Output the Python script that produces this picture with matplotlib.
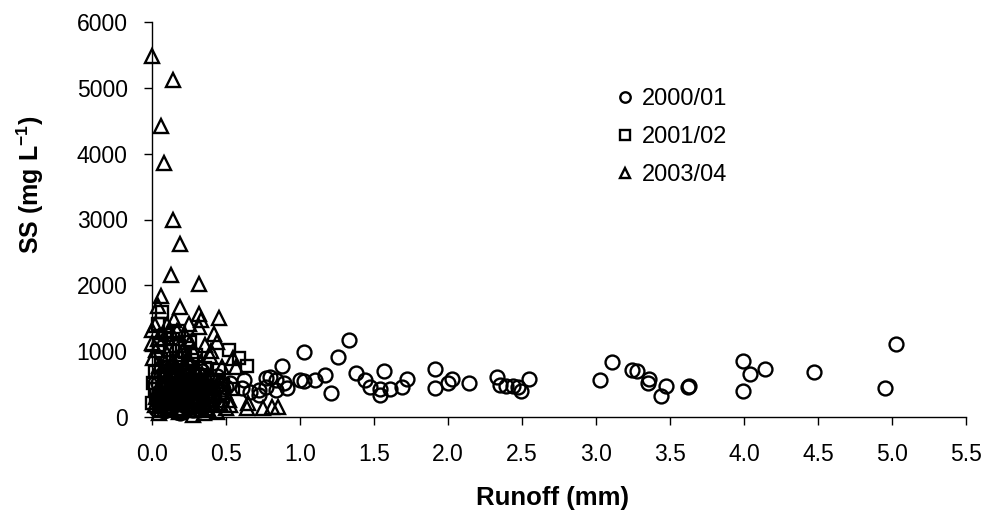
import matplotlib
matplotlib.use("Agg")
import matplotlib.pyplot as plt
from matplotlib.lines import Line2D
from matplotlib.ticker import FormatStrFormatter

plt.rcParams['font.family'] = ['Liberation Sans', 'DejaVu Sans']
plt.rcParams['mathtext.fontset'] = 'custom'
plt.rcParams['mathtext.rm'] = 'Liberation Sans'
plt.rcParams['mathtext.bf'] = 'Liberation Sans:bold'

# Runoff (mm) and suspended sediment (mg/L) per season
runoff_2000 = [0.50, 0.53, 0.61, 0.62, 0.66, 0.72, 0.72, 0.77, 0.77, 0.80, 0.84, 0.84,
               0.88, 0.89, 0.91, 1.00, 1.03, 1.03, 1.10, 1.17, 1.21, 1.26, 1.33, 1.38,
               1.44, 1.47, 1.54, 1.54, 1.57, 1.61, 1.69, 1.72, 1.91, 1.91, 2.00, 2.03,
               2.14, 2.33, 2.35, 2.39, 2.44, 2.47, 2.49, 2.55, 3.03, 3.11, 3.24, 3.28,
               3.36, 3.35, 3.47, 3.44, 3.62, 3.63, 3.99, 4.04, 3.99, 4.14, 4.47, 4.95,
               5.03,
               0.03, 0.04, 0.05, 0.06, 0.07, 0.08, 0.09, 0.10, 0.11, 0.12, 0.13, 0.14,
               0.15, 0.16, 0.17, 0.18, 0.19, 0.20, 0.21, 0.22, 0.23, 0.24, 0.25, 0.26,
               0.27, 0.28, 0.29, 0.30, 0.31, 0.32, 0.33, 0.34, 0.35, 0.36, 0.37, 0.38,
               0.39, 0.40, 0.41, 0.42, 0.43, 0.44, 0.45, 0.46, 0.47, 0.48, 0.06, 0.11,
               0.17, 0.13, 0.23, 0.19, 0.09,
               0.04, 0.06, 0.08, 0.10, 0.12, 0.14, 0.16, 0.18, 0.20, 0.22, 0.24, 0.26,
               0.28, 0.30, 0.32, 0.34, 0.36, 0.38, 0.05, 0.09, 0.13, 0.17, 0.21, 0.25,
               0.29, 0.33, 0.37, 0.41, 0.07, 0.15, 0.23, 0.31]
ss_2000 = [459, 510, 435, 561, 383, 409, 333, 459, 586, 611, 561, 409,
           773, 510, 435, 561, 990, 545, 560, 636, 359, 904, 1177, 662,
           561, 450, 420, 333, 697, 420, 459, 576, 723, 445, 510, 571,
           510, 601, 485, 475, 475, 450, 399, 571, 566, 838, 712, 702,
           571, 510, 475, 323, 455, 470, 848, 652, 399, 722, 687, 445,
           1116,
           120, 260, 380, 180, 450, 90, 300, 540, 210, 360, 140, 620,
           280, 430, 80, 520, 240, 350, 690, 160, 450, 300, 580, 210,
           400, 110, 500, 320, 650, 230, 420, 150, 560, 330, 250, 470,
           190, 380, 560, 280, 440, 620, 350, 500, 260, 420, 620, 760,
           820, 480, 700, 60, 700,
           520, 340, 640, 160, 580, 260, 720, 380, 120, 560, 420, 780,
           240, 560, 100, 700, 460, 320, 220, 420, 760, 200, 480, 140,
           340, 560, 140, 260, 300, 680, 260, 420]

runoff_2001 = [0.00, 0.01, 0.02, 0.03, 0.04, 0.05, 0.06, 0.07, 0.08, 0.09, 0.10, 0.11,
               0.12, 0.13, 0.14, 0.15, 0.16, 0.17, 0.18, 0.19, 0.20, 0.21, 0.22, 0.23,
               0.24, 0.25, 0.27, 0.28, 0.30, 0.31, 0.33, 0.36, 0.38, 0.40, 0.42, 0.45,
               0.48, 0.52, 0.55, 0.59, 0.64, 0.12, 0.06, 0.18, 0.26,
               0.02, 0.05, 0.08, 0.11, 0.14, 0.17, 0.20, 0.23, 0.26, 0.29, 0.32, 0.35]
ss_2001 = [210, 520, 680, 330, 1420, 1100, 880, 1600, 450, 1240, 300, 760,
           1020, 560, 1180, 240, 900, 640, 1080, 420, 820, 180, 980, 560,
           700, 360, 860, 520, 940, 260, 620, 738, 440, 560, 300, 712,
           480, 1015, 420, 889, 773, 150, 100, 1300, 1140,
           420, 200, 620, 340, 480, 120, 540, 280, 380, 660, 180, 460]

runoff_2003 = [0.00, 0.14, 0.06, 0.08, 0.14, 0.19, 0.13, 0.32, 0.06, 0.04, 0.19, 0.32,
               0.33, 0.45, 0.25, 0.15, 0.00, 0.02, 0.42, 0.44, 0.32, 0.12, 0.26, 0.36,
               0.00, 0.55, 0.57, 0.64, 0.75, 0.81, 0.85, 0.65, 0.28, 0.52, 0.53, 0.46,
               0.01, 0.02, 0.03, 0.04, 0.05, 0.07, 0.08, 0.09, 0.10, 0.11, 0.12, 0.13,
               0.14, 0.15, 0.16, 0.17, 0.18, 0.19, 0.20, 0.21, 0.22, 0.23, 0.24, 0.25,
               0.26, 0.27, 0.28, 0.29, 0.30, 0.31, 0.33, 0.34, 0.35, 0.37, 0.38, 0.39,
               0.40, 0.41, 0.43, 0.44, 0.47, 0.49, 0.50, 0.05, 0.10, 0.17, 0.21, 0.02,
               0.35, 0.40,
               0.03, 0.06, 0.09, 0.12, 0.15, 0.18, 0.21, 0.24, 0.27, 0.30, 0.33, 0.36,
               0.04, 0.08, 0.11, 0.16, 0.20, 0.25, 0.29, 0.34]
ss_2003 = [5485, 5117, 4424, 3853, 2995, 2632, 2152, 2015, 1833, 1682, 1671, 1561,
           1470, 1510, 1420, 1470, 1318, 1394, 1268, 1141, 1368, 1318, 1141, 1091,
           1121, 889, 762, 131, 131, 156, 156, 207, 30, 258, 182, 212,
           900, 620, 1020, 420, 780, 260, 1200, 540, 960, 380, 700, 120,
           860, 440, 1100, 300, 640, 950, 200, 760, 1240, 480, 900, 100,
           560, 380, 1000, 250, 700, 160, 840, 420, 280, 620, 120, 920,
           340, 180, 540, 80, 760, 380, 130, 60, 1400, 1300, 1020, 180,
           60, 1010,
           300, 160, 820, 240, 620, 80, 460, 700, 180, 420, 560, 200,
           1180, 340, 560, 220, 620, 820, 480, 660]

season_labels = ['2000/01', '2001/02', '2003/04']
x_ticks = [0.0, 0.5, 1.0, 1.5, 2.0, 2.5, 3.0, 3.5, 4.0, 4.5, 5.0, 5.5]
y_ticks = [0, 1000, 2000, 3000, 4000, 5000, 6000]

W, H = 991, 532
fig = plt.figure(figsize=(W / 100, H / 100), dpi=100)
ax = fig.add_axes([152 / W, 115 / H, 814 / W, 395 / H])

style = dict(linestyle='none', markerfacecolor='none', markeredgecolor='black',
             markeredgewidth=1.7)
ax.plot(runoff_2000, ss_2000, marker='o', markersize=10, clip_on=False, **style)
ax.plot(runoff_2001, ss_2001, marker='s', markersize=9, clip_on=False, **style)
ax.plot(runoff_2003, ss_2003, marker='^', markersize=10.5, clip_on=False, **style)

ax.set_xlim(0, 5.5)
ax.set_ylim(0, 6000)
ax.set_xticks(x_ticks)
ax.set_yticks(y_ticks)
ax.xaxis.set_major_formatter(FormatStrFormatter('%.1f'))

for side in ('top', 'right'):
    ax.spines[side].set_visible(False)
for side in ('left', 'bottom'):
    ax.spines[side].set_linewidth(1.0)

ax.tick_params(axis='both', direction='out', length=5.5, width=1.0,
               labelsize=16.5, colors='black')
ax.tick_params(axis='y', pad=12)
ax.tick_params(axis='x', pad=13)

fig.text(553 / W, 1 - 498 / H, 'Runoff (mm)', fontsize=18.5, fontweight='bold',
         ha='center', va='center')
fig.text(30 / W, 1 - 185 / H, r'SS (mg L$^{\mathbf{-1}}$)', fontsize=18,
         fontweight='bold', rotation=90, ha='center', va='center')

handles = [
    Line2D([], [], marker='o', markersize=7.5, **style),
    Line2D([], [], marker='s', markersize=7, **style),
    Line2D([], [], marker='^', markersize=7.5, **style),
]
fig.legend(handles, season_labels, loc='upper left',
           bbox_to_anchor=(617 / W, 1 - 88 / H), frameon=False, fontsize=17,
           handlelength=0.7, handletextpad=0.35, labelspacing=0.68,
           borderaxespad=0, borderpad=0)

fig.savefig('out.png', dpi=100, facecolor='white')
